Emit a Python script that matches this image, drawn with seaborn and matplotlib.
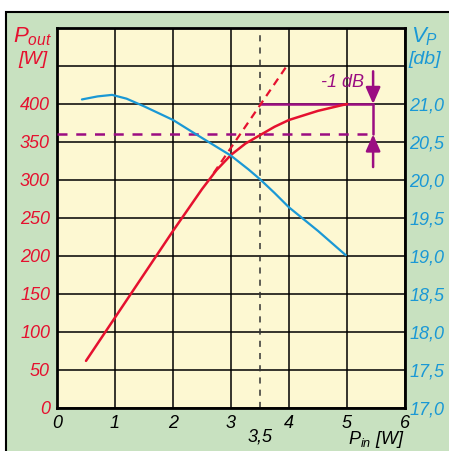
import matplotlib
matplotlib.use("Agg")
import matplotlib.pyplot as plt
import matplotlib.patches as mpatches
import seaborn as sns
import pandas as pd

# P_out curve (left axis, W) vs P_in (W)
pin_out = [0.5, 1.0, 1.5, 2.0, 2.5, 2.75, 3.0, 3.25, 3.5, 3.75, 4.0, 4.5, 5.0]
pout = [62, 119, 176, 233, 288, 313, 333, 348, 359, 370, 379, 391, 400]

# linear extrapolation (dashed red)
pin_lin = [2.7, 3.97]
pout_lin = [309, 451]

# gain curve (right axis, dB)
pin_gain = [0.43, 0.7, 0.95, 1.2, 1.5, 2.0, 2.4, 3.0, 3.3, 3.5, 3.75, 4.0, 4.5, 4.98]
gain_db = [21.06, 21.10, 21.12, 21.07, 20.97, 20.79, 20.60, 20.32, 20.14, 20.01, 19.83, 19.64, 19.33, 19.01]

left_ticks = [0, 50, 100, 150, 200, 250, 300, 350, 400]
right_ticks = [17.0, 17.5, 18.0, 18.5, 19.0, 19.5, 20.0, 20.5, 21.0]
x_ticks = [0, 1, 2, 3, 4, 5, 6]

RED = "#e5112f"
BLUE = "#1a98d5"
MAG = "#9b0d82"
GREEN = "#c8e1c0"
YELLOW = "#fdf8d2"

sns.set_style("white")
plt.rcParams["font.family"] = ["Liberation Sans", "DejaVu Sans"]
plt.rcParams["mathtext.fontset"] = "custom"
plt.rcParams["mathtext.it"] = "Liberation Sans:italic"
plt.rcParams["mathtext.rm"] = "Liberation Sans"

fig = plt.figure(figsize=(4.49, 4.51), dpi=100, facecolor="white")
# green panel with black frame behind the axes
fig.patches.append(mpatches.Rectangle((6 / 449, -0.01), 1.0, (451 - 12) / 451 + 0.01,
                                      transform=fig.transFigure, facecolor=GREEN,
                                      edgecolor="black", linewidth=1.5, zorder=-1))

ax = fig.add_axes([57 / 449, 43 / 451, 348 / 449, 380 / 451])
ax.set_facecolor(YELLOW)
ax.set_xlim(0, 6)
ax.set_ylim(0, 500)
ax.set_xticks(x_ticks)
ax.set_yticks(left_ticks + [450, 500])
ax.set_xticklabels([str(t) for t in x_ticks], fontstyle="italic", fontsize=13, color="black")
ax.set_yticklabels([str(t) for t in left_ticks] + ["", ""], fontstyle="italic", fontsize=13, color=RED)
ax.tick_params(length=0, pad=5)
ax.grid(True, color="black", linewidth=1.1)
ax.set_axisbelow(True)
for s in ax.spines.values():
    s.set_linewidth(2)
    s.set_color("black")

# 3,5 marker
ax.axvline(3.5, color="#333333", linestyle=(0, (4, 4)), linewidth=1.1, zorder=2)

# compression annotation
ax.plot([0, 5.45], [360, 360], color=MAG, linestyle=(0, (4, 3.5)), linewidth=1.8, zorder=3)
ax.plot([3.5, 5.45], [400, 400], color=MAG, linewidth=1.8, zorder=3)
ax.plot([5.45, 5.45], [360, 400], color=MAG, linewidth=1.8, zorder=3)
arrow = dict(arrowstyle="-|>,head_length=0.5,head_width=0.22", color=MAG, lw=1.8,
             mutation_scale=20, shrinkA=0, shrinkB=0)
ax.annotate("", xy=(5.45, 400), xytext=(5.45, 443), arrowprops=arrow, zorder=4)
ax.annotate("", xy=(5.45, 360), xytext=(5.45, 317), arrowprops=arrow, zorder=4)
ax.text(4.93, 428, "-1 dB", color=MAG, fontstyle="italic", fontsize=13, ha="center", va="center")

# curves
df_out = pd.DataFrame({"pin": pin_out, "pout": pout})
sns.lineplot(data=df_out, x="pin", y="pout", ax=ax, color=RED, linewidth=1.8, zorder=5)
ax.plot(pin_lin, pout_lin, color=RED, linestyle=(0, (3.5, 2.5)), linewidth=1.6, zorder=5)

ax2 = ax.twinx()
ax2.set_ylim(17.0, 22.0)
df_gain = pd.DataFrame({"pin": pin_gain, "db": gain_db})
sns.lineplot(data=df_gain, x="pin", y="db", ax=ax2, color=BLUE, linewidth=1.6)
ax2.set_yticks(right_ticks)
ax2.set_yticklabels([f"{t:.1f}".replace(".", ",") for t in right_ticks],
                    fontstyle="italic", fontsize=13, color=BLUE)
ax2.tick_params(length=0, pad=3)
for s in ax2.spines.values():
    s.set_visible(False)
ax.set_xlabel("")
ax.set_ylabel("")
ax2.set_xlabel("")
ax2.set_ylabel("")

# axis titles
fig.text(33 / 449, 1 - 37 / 451, r"$P_{out}$", color=RED, fontsize=16, ha="center", va="center")
fig.text(33 / 449, 1 - 60 / 451, "[W]", color=RED, fontstyle="italic", fontsize=14, ha="center", va="center")
fig.text(425 / 449, 1 - 37 / 451, r"$V_{P}$", color=BLUE, fontsize=16, ha="center", va="center")
fig.text(425 / 449, 1 - 60 / 451, "[db]", color=BLUE, fontstyle="italic", fontsize=14, ha="center", va="center")
fig.text(260 / 449, 1 - 437 / 451, "3,5", color="black", fontstyle="italic", fontsize=13, ha="center", va="center")
fig.text(376 / 449, 1 - 440 / 451, r"$P_{in}$ [W]", color="black", fontstyle="italic", fontsize=13,
         ha="center", va="center")

fig.savefig("out.png", dpi=100, facecolor="white")
